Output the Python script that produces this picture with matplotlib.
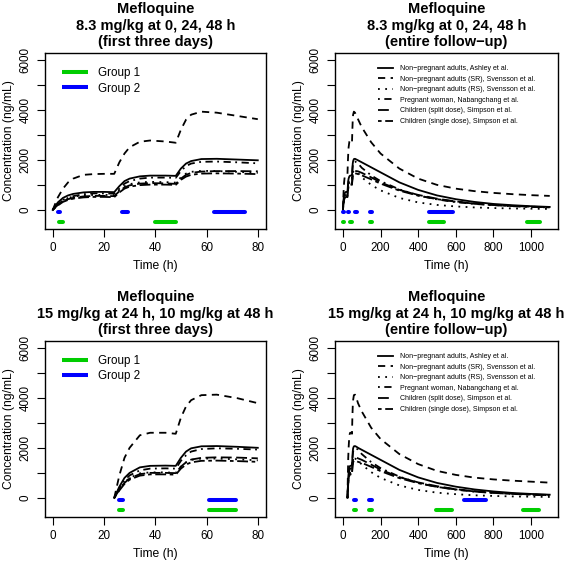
import numpy as np
import matplotlib.pyplot as plt

plt.rcParams['font.family'] = ['Liberation Sans', 'DejaVu Sans']

# --- data ---
# regimen A: 8.3 mg/kg at 0, 24, 48 h
time_a = [0, 2, 4, 6, 8, 12, 16, 20, 24, 26, 28, 30, 34, 38, 44, 48, 50, 52, 54, 58, 64, 72, 80,
          100, 150, 200, 300, 400, 500, 600, 700, 800, 900, 1000, 1100]
ashley_a = [0, 300, 480, 580, 640, 700, 720, 720, 710, 950, 1150, 1250, 1340, 1370, 1370, 1360, 1650, 1850, 1950, 2030, 2040, 2010, 1980,
            1900, 1700, 1500, 1100, 800, 580, 430, 320, 240, 190, 150, 120]
svensson_sr_a = [0, 500, 850, 1100, 1250, 1400, 1430, 1440, 1440, 1900, 2250, 2500, 2720, 2770, 2730, 2680, 3200, 3600, 3800, 3920, 3880, 3750, 3620,
                 3300, 2700, 2250, 1650, 1250, 1000, 850, 750, 680, 630, 590, 560]
svensson_rs_a = [0, 250, 400, 480, 530, 580, 600, 600, 590, 800, 950, 1030, 1100, 1120, 1110, 1090, 1300, 1450, 1520, 1560, 1550, 1520, 1480,
                 1300, 1000, 780, 480, 300, 200, 140, 100, 75, 60, 50, 40]
nabangchang_a = [0, 220, 380, 480, 550, 630, 660, 660, 650, 850, 1050, 1150, 1250, 1290, 1290, 1280, 1550, 1750, 1850, 1920, 1930, 1900, 1860,
                 1680, 1380, 1150, 820, 580, 420, 310, 240, 190, 150, 120, 100]
simpson_split_a = [0, 200, 350, 430, 480, 540, 560, 560, 550, 750, 900, 980, 1050, 1070, 1060, 1040, 1250, 1400, 1480, 1530, 1550, 1550, 1540,
                   1480, 1300, 1100, 800, 600, 450, 340, 260, 200, 160, 130, 110]
simpson_single_a = [0, 180, 320, 400, 450, 500, 520, 520, 510, 700, 850, 930, 990, 1010, 1010, 1000, 1200, 1330, 1400, 1450, 1460, 1450, 1430,
                    1380, 1220, 1050, 770, 570, 430, 330, 250, 200, 160, 130, 100]

# regimen B: 15 mg/kg at 24 h, 10 mg/kg at 48 h
time_b = [24, 26, 28, 30, 34, 38, 44, 48, 50, 52, 54, 58, 64, 72, 80,
          100, 150, 200, 300, 400, 500, 600, 700, 800, 900, 1000, 1100]
ashley_b = [0, 450, 800, 1000, 1220, 1280, 1290, 1280, 1600, 1850, 1980, 2060, 2070, 2040, 2000,
            1920, 1720, 1520, 1120, 820, 600, 450, 340, 260, 200, 160, 130]
svensson_sr_b = [0, 900, 1600, 2000, 2500, 2600, 2600, 2560, 3200, 3650, 3900, 4100, 4120, 3980, 3780,
                 3450, 2800, 2350, 1750, 1350, 1080, 920, 810, 740, 690, 650, 610]
svensson_rs_b = [0, 350, 620, 800, 980, 1020, 1020, 1000, 1250, 1420, 1520, 1570, 1570, 1540, 1500,
                 1330, 1030, 800, 500, 320, 210, 150, 105, 80, 60, 50, 40]
nabangchang_b = [0, 380, 700, 900, 1100, 1170, 1180, 1170, 1480, 1700, 1850, 1950, 1980, 1960, 1930,
                 1750, 1430, 1190, 850, 600, 440, 330, 250, 200, 160, 130, 110]
simpson_split_b = [0, 330, 600, 780, 950, 1000, 1000, 990, 1250, 1420, 1530, 1600, 1620, 1610, 1580,
                   1520, 1330, 1130, 830, 620, 470, 350, 270, 210, 170, 140, 120]
simpson_single_b = [0, 300, 560, 730, 890, 940, 940, 930, 1170, 1330, 1420, 1480, 1490, 1470, 1440,
                    1400, 1240, 1070, 790, 590, 440, 340, 260, 205, 165, 135, 110]

# sampling windows (start, end) in h
group1_a = [(2.5, 4), (40, 48), (144, 156), (456, 540), (980, 1048)]
group2_a = [(2, 3), (27, 29.5), (63, 75), (144, 156), (456, 588)]
group1_b = [(26, 27.5), (61, 71.5), (138, 152), (497, 582), (960, 1042)]
group2_b = [(26, 27.5), (61, 71.5), (138, 152), (643, 762)]

labels = ['Non\u2212pregnant adults, Ashley et al.',
          'Non\u2212pregnant adults (SR), Svensson et al.',
          'Non\u2212pregnant adults (RS), Svensson et al.',
          'Pregnant woman, Nabangchang et al.',
          'Children (split dose), Simpson et al.',
          'Children (single dose), Simpson et al.']
styles = ['-', (0, (4, 3)), (0, (1, 3)), (0, (1, 2.5, 4, 2.5)), (0, (6, 2.5)), (0, (2, 2, 6, 2))]

series_a = [ashley_a, svensson_sr_a, svensson_rs_a, nabangchang_a, simpson_split_a, simpson_single_a]
series_b = [ashley_b, svensson_sr_b, svensson_rs_b, nabangchang_b, simpson_split_b, simpson_single_b]

GREEN = '#00CD00'
BLUE = '#0000FF'
W, H = 565, 562

fig = plt.figure(figsize=(W / 100, H / 100), dpi=100)


def make_axes(left, right, top, bottom):
    return fig.add_axes([left / W, 1 - bottom / H, (right - left) / W, (bottom - top) / H])


def style_axes(ax, xlim, xticks, title):
    ax.set_xlim(*xlim)
    ax.set_ylim(-760, 6260)
    ax.set_xticks(xticks)
    ax.set_yticks(range(0, 7000, 1000))
    ax.set_yticklabels(['0', '', '2000', '', '4000', '', '6000'], rotation=90, va='center')
    ax.tick_params(direction='out', length=5.5, width=0.8, labelsize=8.4, pad=4)
    for sp in ax.spines.values():
        sp.set_linewidth(1.0)
    ax.set_xlabel('Time (h)', fontsize=8.7, labelpad=4)
    ax.set_ylabel('Concentration (ng/mL)', fontsize=8.7, labelpad=3)
    ax.set_title(title, fontsize=10.5, fontweight='bold', linespacing=1.22, pad=5)


def draw_groups(ax, g1, g2):
    for s, e in g2:
        ax.plot([s, e], [-100, -100], color=BLUE, lw=2.9, solid_capstyle='round')
    for s, e in g1:
        ax.plot([s, e], [-500, -500], color=GREEN, lw=2.9, solid_capstyle='round')


panels = [
    (time_a, series_a, group1_a, group2_a, '8.3 mg/kg at 0, 24, 48 h', 53, 229),
    (time_b, series_b, group1_b, group2_b, '15 mg/kg at 24 h, 10 mg/kg at 48 h', 341, 517),
]

for t, series, g1, g2, dose, top, bottom in panels:
    t = np.array(t)
    # first three days
    ax = make_axes(44.5, 266, top, bottom)
    keep = t <= 80
    for vals, ls in zip(series, styles):
        ax.plot(t[keep], np.array(vals)[keep], color='black', lw=1.3, linestyle=ls)
    draw_groups(ax, g1, g2)
    style_axes(ax, (-3.2, 83.2), [0, 20, 40, 60, 80],
               'Mefloquine\n' + dose + '\n(first three days)')
    h1, = ax.plot([], [], color=GREEN, lw=2.9, solid_capstyle='butt')
    h2, = ax.plot([], [], color=BLUE, lw=2.9, solid_capstyle='butt')
    ax.legend([h1, h2], ['Group 1', 'Group 2'], loc='upper left',
              bbox_to_anchor=((62 - 44.5) / 221.5, 1 - 14 / (bottom - top)),
              frameon=False, fontsize=8.4, handlelength=2.2, handletextpad=0.85,
              labelspacing=0.3, borderpad=0, borderaxespad=0)

    # entire follow-up
    ax = make_axes(334.7, 558, top, bottom)
    handles = []
    for vals, ls, lab in zip(series, styles, labels):
        h, = ax.plot(t, vals, color='black', lw=1.3, linestyle=ls, label=lab)
        handles.append(h)
    draw_groups(ax, g1, g2)
    style_axes(ax, (-44, 1144), [0, 200, 400, 600, 800, 1000],
               'Mefloquine\n' + dose + '\n(entire follow\u2212up)')
    ax.legend(handles=handles, loc='upper left',
              bbox_to_anchor=((378 - 334.7) / 223.3, 1 - 12 / (bottom - top)),
              frameon=False, fontsize=5.0, handlelength=2.2, handletextpad=1.0,
              labelspacing=0.52, borderpad=0, borderaxespad=0)

fig.savefig('out.png', dpi=100)
